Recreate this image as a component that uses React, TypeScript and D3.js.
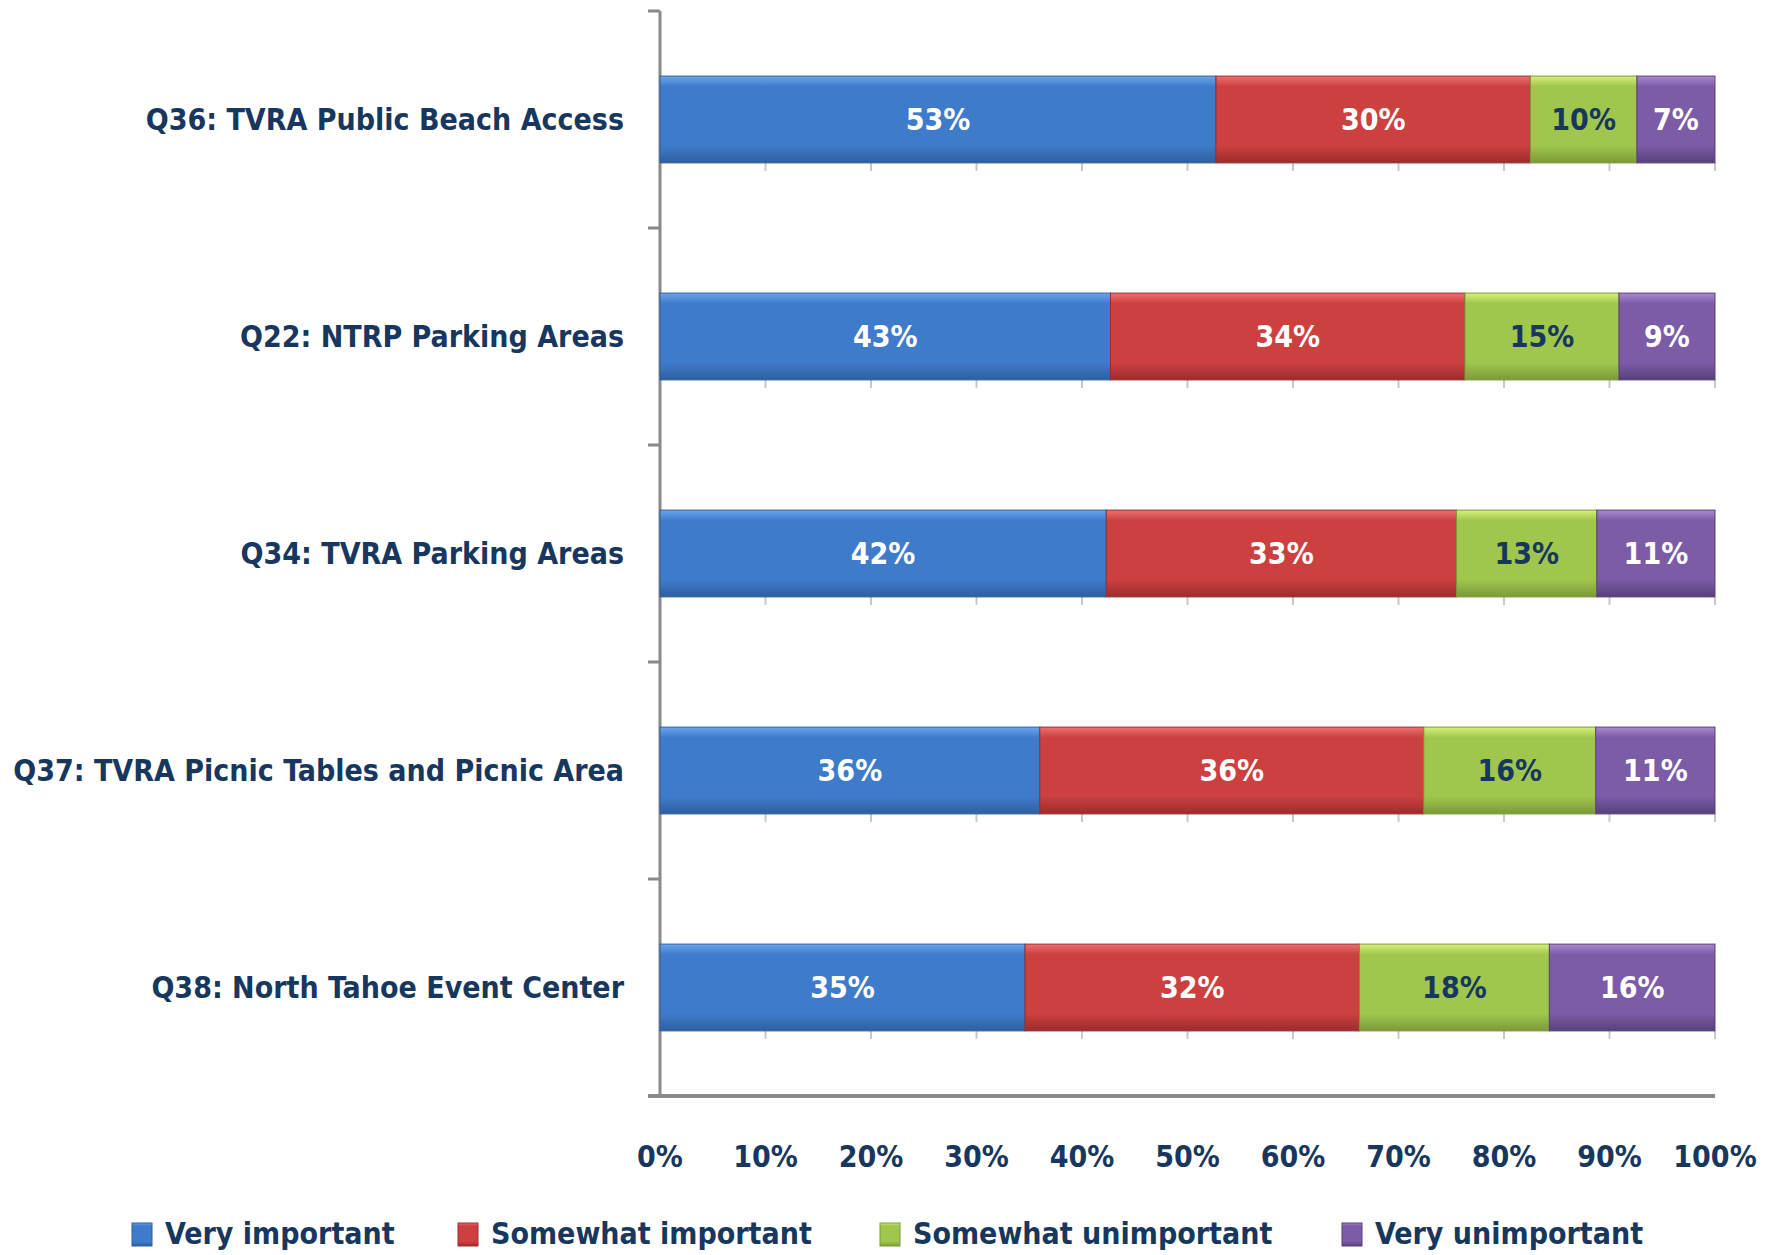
import React from 'react';
import * as d3 from 'd3';

const categories = [
  'Q36: TVRA Public Beach Access',
  'Q22: NTRP Parking Areas',
  'Q34: TVRA Parking Areas',
  'Q37: TVRA Picnic Tables and Picnic Area',
  'Q38: North Tahoe Event Center',
];
const seriesNames = ['Very important', 'Somewhat important', 'Somewhat unimportant', 'Very unimportant'];
const veryImportant = [52.7, 42.7, 42.3, 36.0, 34.6];
const somewhatImportant = [29.8, 33.6, 33.2, 36.4, 31.7];
const somewhatUnimportant = [10.1, 14.6, 13.3, 16.3, 18.0];
const veryUnimportant = [7.4, 9.1, 11.2, 11.3, 15.7];
const tickValues = [0, 10, 20, 30, 40, 50, 60, 70, 80, 90, 100];

const palette = [
  { base: '#3f7bcb', light: '#6aa6ec', dark: '#2f5f9e', text: '#ffffff' },
  { base: '#cc4040', light: '#ee7070', dark: '#9c2c2c', text: '#ffffff' },
  { base: '#a0c64e', light: '#d6f17a', dark: '#7a9a38', text: '#17375e' },
  { base: '#7c5ca6', light: '#a88ad0', dark: '#58407a', text: '#ffffff' },
];

const navy = '#17375e';
const axisGray = '#8a8a8a';
const font = "'Liberation Sans Narrow', 'DejaVu Sans Condensed', 'Open Sans', sans-serif";
const fs = 30;

const W = 1779, H = 1255;
const margin = { top: 11, right: 64, bottom: 159, left: 660 };

export default function App() {
  const allSeries = [veryImportant, somewhatImportant, somewhatUnimportant, veryUnimportant];
  const rows = categories.map((c, i) => {
    const vals = allSeries.map(s => s[i]);
    let acc = 0;
    const segs = vals.map((v, k) => {
      const s = { k, x0: acc, x1: acc + v, v };
      acc += v;
      return s;
    });
    return { c, segs };
  });

  const x = d3.scaleLinear().domain([0, 100]).range([margin.left, W - margin.right]);
  const y = d3.scaleBand().domain(categories).range([margin.top, H - margin.bottom])
    .paddingInner(0.6).paddingOuter(0.3);
  const step = y.step();
  const bh = y.bandwidth();
  const axisBottom = H - margin.bottom;

  const legendX = [132, 458, 880, 1342];

  return (
    <svg width={W} height={H} style={{ display: 'block', position: 'absolute', left: 0, top: 0 }}>
      <defs>
        {palette.map((p, k) => (
          <linearGradient key={k} id={`g${k}`} x1="0" y1="0" x2="0" y2="1">
            <stop offset="0" stopColor={p.light} />
            <stop offset="0.12" stopColor={p.base} />
            <stop offset="0.8" stopColor={p.base} />
            <stop offset="1" stopColor={p.dark} />
          </linearGradient>
        ))}
      </defs>
      <rect width={W} height={H} fill="#ffffff" />

      {/* y axis with category boundary ticks */}
      <line x1={x(0)} x2={x(0)} y1={margin.top} y2={axisBottom} stroke={axisGray} strokeWidth={3} />
      {d3.range(categories.length + 1).map(i => (
        <line key={i} x1={x(0) - 12} x2={x(0)} y1={margin.top + i * step} y2={margin.top + i * step}
          stroke={axisGray} strokeWidth={3} />
      ))}
      <line x1={x(0) - 12} x2={x(100)} y1={axisBottom} y2={axisBottom} stroke={axisGray} strokeWidth={4} />

      {rows.map(r => {
        const y0 = y(r.c)!;
        return (
          <g key={r.c}>
            {tickValues.slice(1).map(t => (
              <line key={t} x1={x(t)} x2={x(t)} y1={y0 + bh} y2={y0 + bh + 8} stroke="#c8c8c8" strokeWidth={2} />
            ))}
            {r.segs.map(s => (
              <g key={s.k}>
                <rect x={x(s.x0)} y={y0} width={x(s.x1) - x(s.x0)} height={bh}
                  fill={`url(#g${s.k})`} stroke={palette[s.k].dark} strokeWidth={1} />
                <text x={(x(s.x0) + x(s.x1)) / 2} y={y0 + bh / 2} dy="0.36em" textAnchor="middle"
                  fontFamily={font} fontWeight="bold" fontSize={fs} fill={palette[s.k].text}>
                  {`${Math.round(s.v)}%`}
                </text>
              </g>
            ))}
            <text x={624} y={y0 + bh / 2} dy="0.36em" textAnchor="end"
              fontFamily={font} fontWeight="bold" fontSize={fs} fill={navy}>
              {r.c}
            </text>
          </g>
        );
      })}

      {tickValues.map(t => (
        <text key={t} x={x(t)} y={1167} textAnchor="middle" fontFamily={font} fontWeight="bold"
          fontSize={fs} fill={navy}>{`${t}%`}</text>
      ))}

      {seriesNames.map((n, k) => (
        <g key={n}>
          <rect x={legendX[k]} y={1223} width={20} height={23} fill={`url(#g${k})`} stroke={palette[k].dark} strokeWidth={1} />
          <text x={legendX[k] + 33} y={1244} fontFamily={font} fontWeight="bold" fontSize={fs} fill={navy}>{n}</text>
        </g>
      ))}
    </svg>
  );
}
